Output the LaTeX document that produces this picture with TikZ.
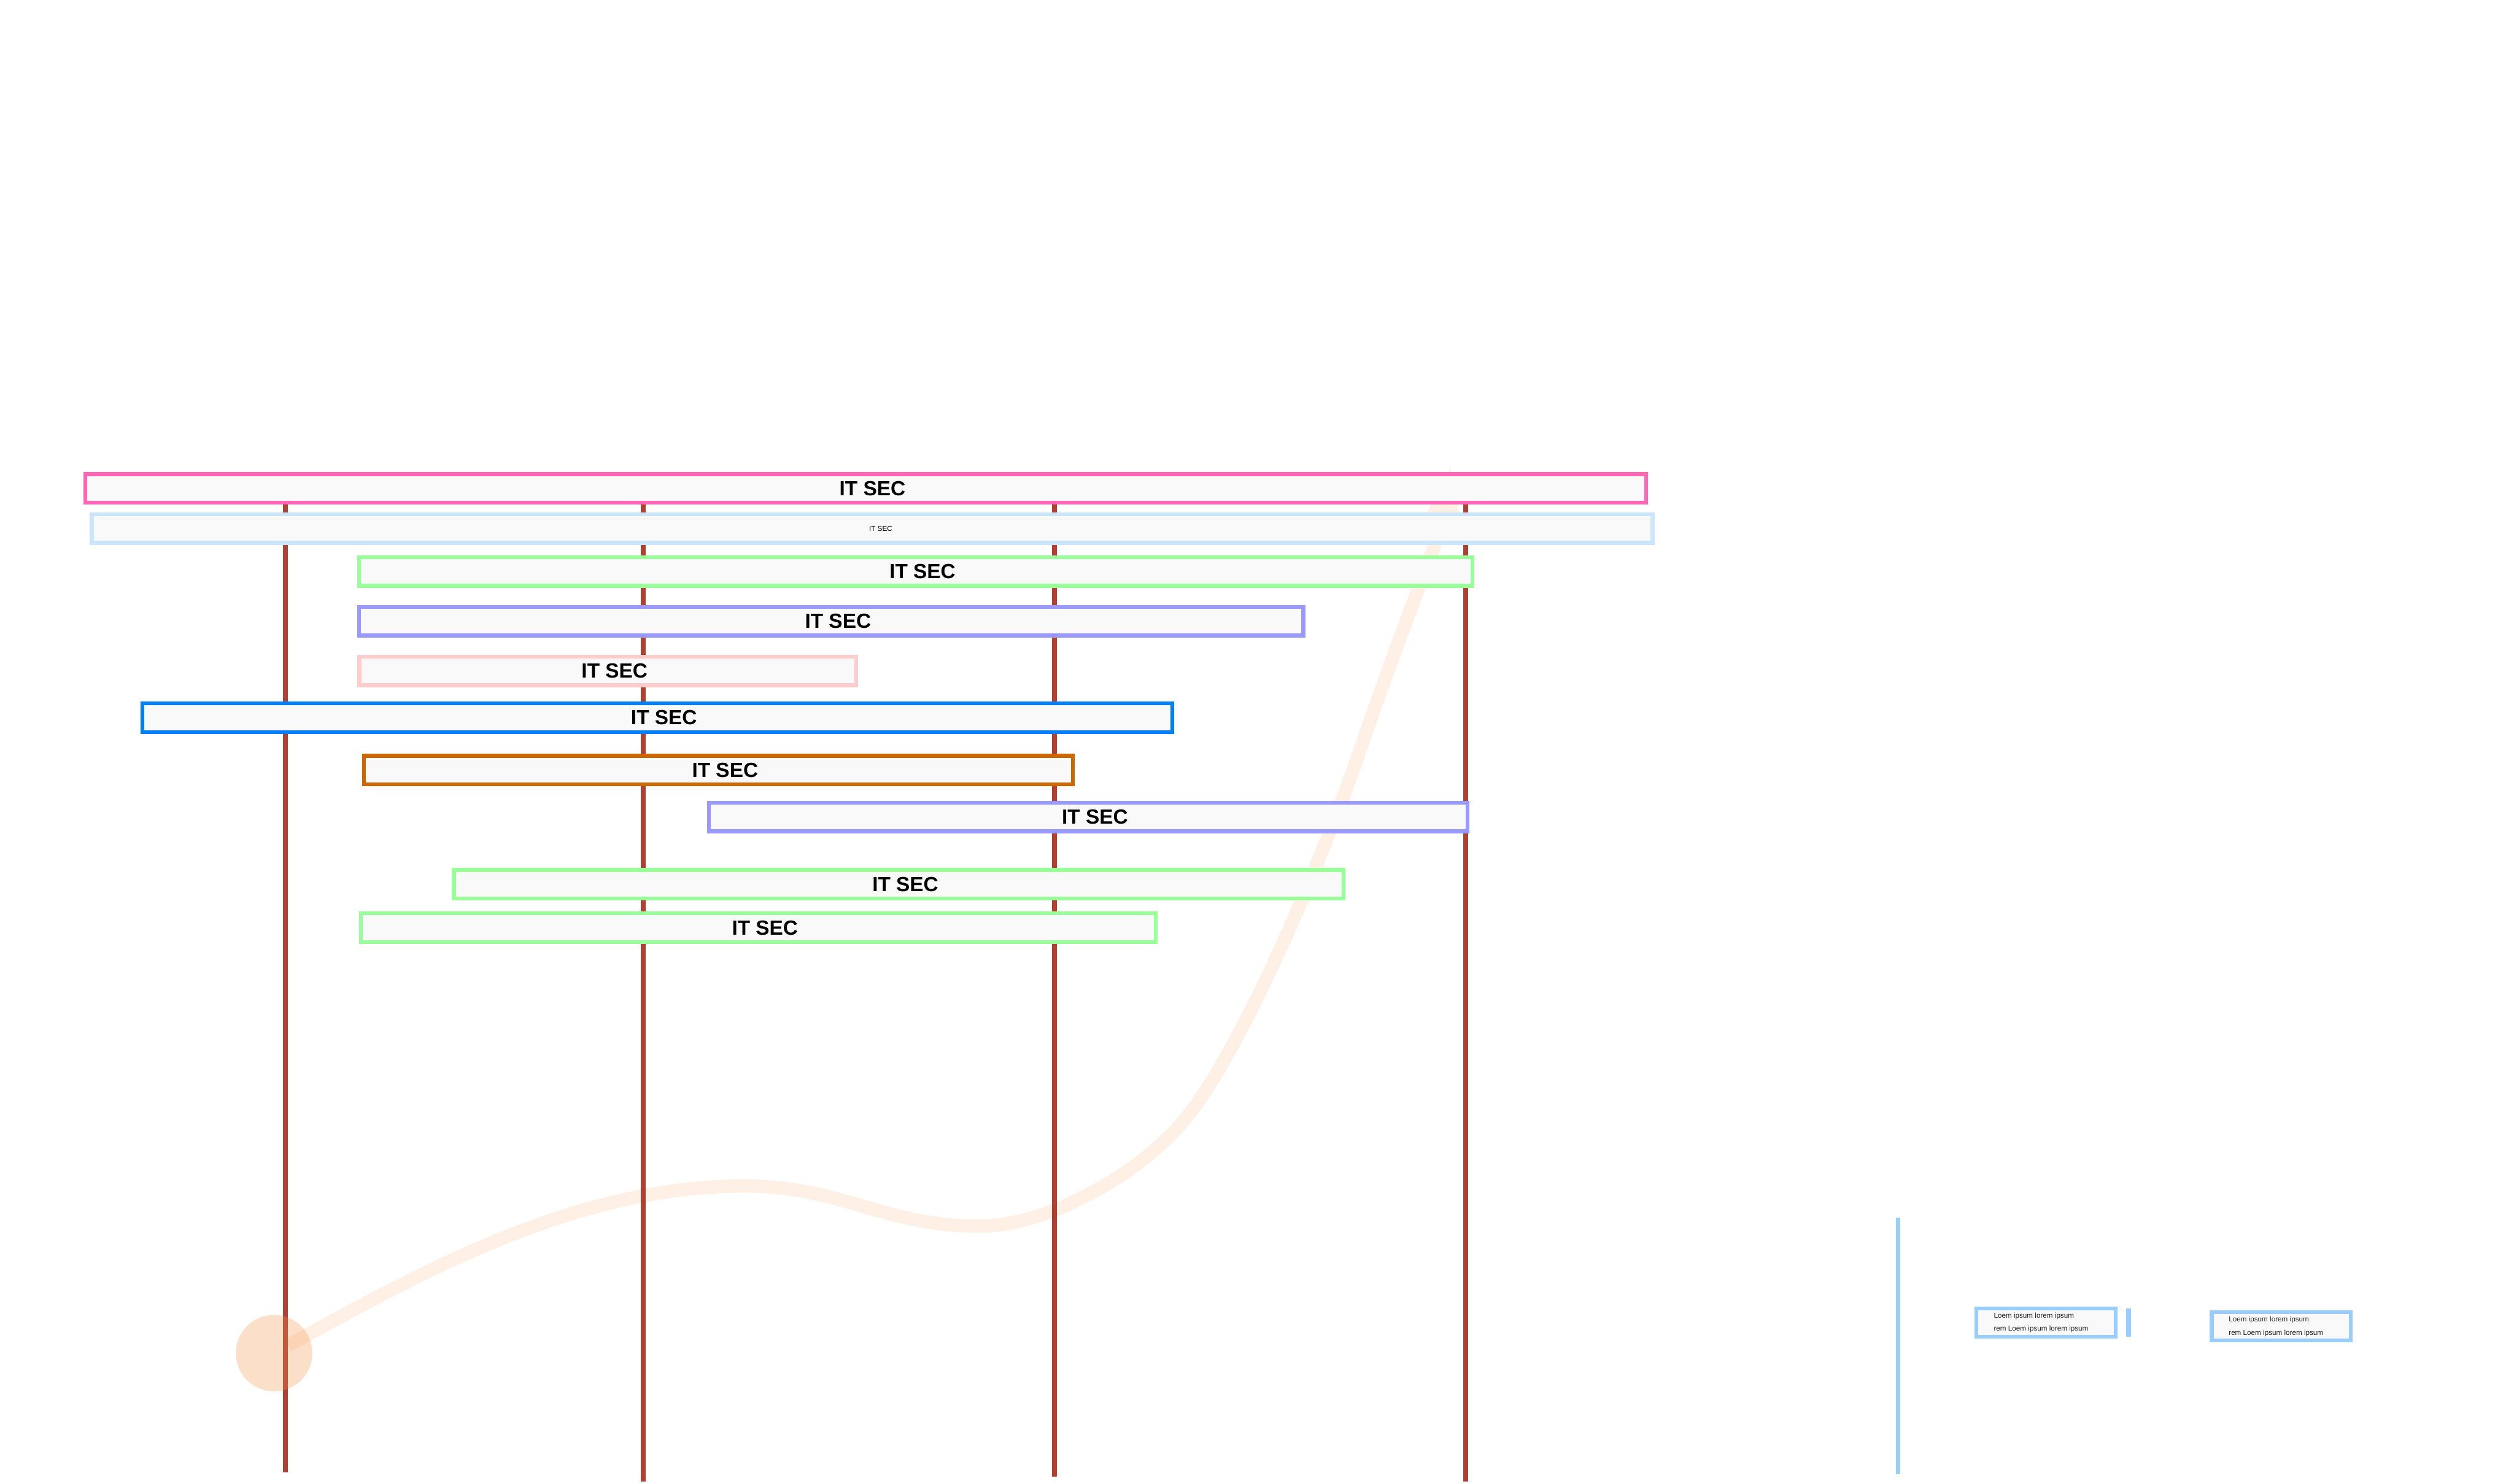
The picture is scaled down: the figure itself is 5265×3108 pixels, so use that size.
\documentclass[tikz,border=0pt]{standalone}
\usepackage{fontspec}
\setmainfont{Liberation Sans}
\usetikzlibrary{arrows.meta}
\definecolor{barfill}{HTML}{F9F9F9}
\definecolor{redline}{HTML}{AE4132}
\definecolor{pinkS}{HTML}{FF66B3}
\definecolor{lblueS}{HTML}{CCE5FF}
\definecolor{greenS}{HTML}{99FF99}
\definecolor{purpS}{HTML}{9999FF}
\definecolor{lpinkS}{HTML}{FFCCCC}
\definecolor{blueS}{HTML}{0080FF}
\definecolor{brownS}{HTML}{CC6600}
\definecolor{skyS}{HTML}{99CCFF}
\definecolor{curveC}{HTML}{FFF0E5}
\definecolor{circC}{HTML}{F5964A}
\definecolor{txtC}{HTML}{222222}
\tikzset{
  bar/.style={draw, rectangle, line width=0.08cm, fill=barfill, inner sep=0pt,
    minimum height=0.6cm, font=\fontsize{12.2pt}{14pt}\selectfont\bfseries},
  lifeline/.style={draw=redline, line width=0.1cm},
  skyline/.style={draw=skyS, line width=0.1cm},
  smallbox/.style={draw=skyS, rectangle, line width=0.08cm, fill=barfill, inner sep=0pt, minimum height=0.6cm},
  boxtxt/.style={anchor=west, inner sep=0pt, text=txtC, font=\fontsize{4.27pt}{5pt}\selectfont},
  flow/.style={draw=curveC, line width=0.28cm, -{Triangle[length=1.37cm,width=0.82cm]}},
}
\begin{document}
\begin{tikzpicture}[x=0.01cm,y=-0.01cm]
\useasboundingbox (0,0) rectangle (5265,3108);
% decorative flow curve
\coordinate (fs) at (603,2818);
\coordinate (fe) at (3038,973);
\draw[flow] (fs) .. controls (903,2653) and (1211,2484) .. (1561,2484)
  .. controls (1761,2484) and (1851,2568) .. (2051,2568)
  .. controls (2200,2568) and (2398,2452) .. (2490,2334)
  .. controls (2612,2176) and (2777,1783) .. (2857,1546)
  .. controls (2905,1404) and (3020,1100) .. (fe);
% lifelines
\coordinate (l1t) at (598,1030);  \coordinate (l1b) at (598,3083);
\coordinate (l2t) at (1347,1030); \coordinate (l2b) at (1347,3103);
\coordinate (l3t) at (2208,1030); \coordinate (l3b) at (2208,3093);
\coordinate (l4t) at (3069,1030); \coordinate (l4b) at (3069,3103);
\draw[lifeline] (l1t) -- (l1b);
\draw[lifeline] (l2t) -- (l2b);
\draw[lifeline] (l3t) -- (l3b);
\draw[lifeline] (l4t) -- (l4b);
% bars
\node[bar, draw=pinkS,  minimum width=32.66cm] (b1)  at (1813,1023)   {\hspace*{0.28cm}IT SEC};
\node[bar, draw=lblueS, minimum width=32.67cm, font=\fontsize{4.3pt}{5pt}\selectfont] (b2) at (1826.5,1107) {\hspace*{0.36cm}IT SEC};
\node[bar, draw=greenS, minimum width=23.30cm] (b3)  at (1918,1197)   {\hspace*{0.28cm}IT SEC};
\node[bar, draw=purpS,  minimum width=19.76cm] (b4)  at (1741,1301)   {\hspace*{0.28cm}IT SEC};
\node[bar, draw=lpinkS, minimum width=10.40cm] (b5)  at (1273,1405)   {\hspace*{0.28cm}IT SEC};
\node[bar, draw=blueS,  minimum width=21.55cm] (b6)  at (1376.5,1503) {\hspace*{0.28cm}IT SEC};
\node[bar, draw=brownS, minimum width=14.83cm] (b7)  at (1504.5,1613) {\hspace*{0.28cm}IT SEC};
\node[bar, draw=purpS,  minimum width=15.88cm] (b8)  at (2279,1711)   {\hspace*{0.28cm}IT SEC};
\node[bar, draw=greenS, minimum width=18.62cm] (b9)  at (1882,1852)   {\hspace*{0.28cm}IT SEC};
\node[bar, draw=greenS, minimum width=16.64cm] (b10) at (1588,1943)   {\hspace*{0.28cm}IT SEC};
% circle start marker
\node[circle, fill=circC, fill opacity=0.3, draw=none, minimum size=1.6cm, inner sep=0pt] (c) at (574,2834) {};
% right-hand legend
\coordinate (s1t) at (3975,2550); \coordinate (s1b) at (3975,3087);
\draw[skyline] (s1t) -- (s1b);
\node[smallbox, minimum width=2.92cm] (bxA) at (4285,2770) {};
\node[boxtxt] (tA1) at (4175,2756) {Loem ipsum lorem ipsum};
\node[boxtxt] (tA2) at (4175,2784) {rem Loem ipsum lorem ipsum};
\coordinate (s2t) at (4458,2741); \coordinate (s2b) at (4458,2800);
\draw[skyline] (s2t) -- (s2b);
\node[smallbox, minimum width=2.91cm, minimum height=0.59cm] (bxB) at (4777.5,2777.5) {};
\node[boxtxt] (tB1) at (4667,2764) {Loem ipsum lorem ipsum};
\node[boxtxt] (tB2) at (4667,2792) {rem Loem ipsum lorem ipsum};
\end{tikzpicture}
\end{document}
